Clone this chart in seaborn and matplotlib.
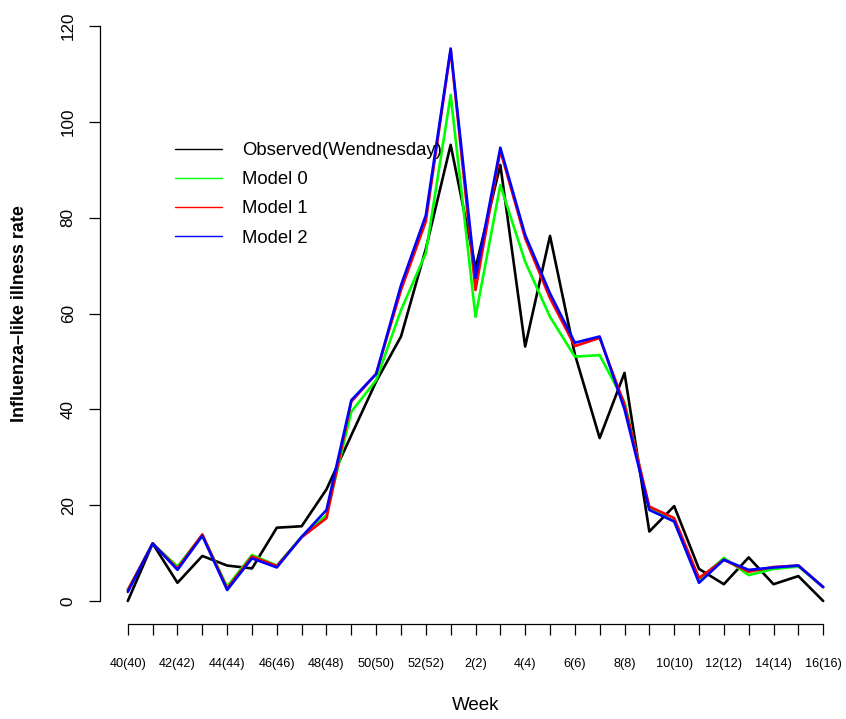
import numpy as np
import pandas as pd
import seaborn as sns
import matplotlib
matplotlib.use("Agg")
import matplotlib.pyplot as plt
from matplotlib.lines import Line2D

# Surveillance weeks (season 40 -> 16)
weeks = [40, 41, 42, 43, 44, 45, 46, 47, 48, 49, 50, 51, 52,
         1, 2, 3, 4, 5, 6, 7, 8, 9, 10, 11, 12, 13, 14, 15, 16]
week_labels = [f"{w}({w})" for w in weeks]

observed = [0.0, 12.0, 3.8, 9.4, 7.4, 6.8, 15.3, 15.6, 23.3, 34.6, 45.8, 55.2, 73.5,
            95.2, 69.5, 91.0, 53.1, 76.2, 51.5, 34.0, 47.6, 14.5, 19.8, 6.7, 3.5,
            9.1, 3.5, 5.2, 0.0]
model0 = [2.3, 12.0, 7.2, 13.8, 3.0, 9.6, 7.4, 13.4, 17.9, 39.5, 46.1, 60.7, 72.6,
          105.6, 59.3, 86.8, 70.8, 59.3, 51.0, 51.3, 41.5, 19.3, 16.6, 4.4, 9.0,
          5.4, 6.7, 7.2, 2.9]
model1 = [2.3, 12.0, 6.8, 13.9, 2.6, 9.3, 7.3, 13.3, 17.3, 41.6, 47.4, 64.9, 79.2,
          115.0, 64.9, 94.0, 75.7, 63.2, 53.2, 54.9, 41.0, 19.7, 17.3, 4.8, 8.6,
          6.1, 7.1, 7.4, 2.9]
model2 = [1.9, 12.0, 6.5, 13.6, 2.3, 8.9, 7.0, 13.4, 19.0, 41.9, 47.4, 65.9, 80.5,
          115.3, 67.4, 94.6, 76.4, 64.2, 53.9, 55.2, 40.0, 19.0, 16.6, 3.8, 8.6,
          6.5, 7.0, 7.4, 2.9]

series_names = ["Observed(Wendnesday)", "Model 0", "Model 1", "Model 2"]
series_values = [observed, model0, model1, model2]
series_colors = ["#000000", "#00FF00", "#FF0000", "#0000FF"]

pos = np.arange(len(weeks))
df = pd.concat(
    [pd.DataFrame({"pos": pos, "rate": vals, "series": name})
     for name, vals in zip(series_names, series_values)],
    ignore_index=True,
)

sns.set_style("white")
plt.rcParams["font.family"] = ["Liberation Sans", "DejaVu Sans"]
plt.rcParams.update({"text.color": "black", "axes.labelcolor": "black",
                     "xtick.color": "black", "ytick.color": "black"})

fig = plt.figure(figsize=(8.46, 7.19), dpi=100)
ax = fig.add_axes([100 / 846, 1 - 624 / 719, 751 / 846, 621 / 719])

sns.lineplot(data=df, x="pos", y="rate", hue="series", hue_order=series_names,
             palette=series_colors, linewidth=1.9, legend=False, ax=ax)

ax.set_xlim(-1.12, 29.12)
ax.set_ylim(-4.8, 124.8)

# R-style detached axes: only the data range is drawn
for side in ("top", "right"):
    ax.spines[side].set_visible(False)
ax.spines["left"].set_bounds(0, 120)
ax.spines["bottom"].set_bounds(0, 28)
for side in ("left", "bottom"):
    ax.spines[side].set_linewidth(0.9)
    ax.spines[side].set_color("black")

ax.set_xticks(pos)
ax.set_xticklabels([lab if i % 2 == 0 else "" for i, lab in enumerate(week_labels)],
                   fontsize=9.2)
ax.set_yticks([0, 20, 40, 60, 80, 100, 120])
ax.set_yticklabels(["0", "20", "40", "60", "80", "100", "120"], fontsize=12.3,
                   rotation=90, va="center")
ax.tick_params(axis="both", direction="out", length=8, width=0.9, color="black",
               labelcolor="black", left=True, bottom=True)
ax.tick_params(axis="x", pad=16.5)
ax.tick_params(axis="y", pad=9.5)

ax.set_xlabel("Week", fontsize=13.5, va="center")
ax.xaxis.set_label_coords(0.5, -(705 - 624) / 621)
ax.set_ylabel("Influenza–like illness rate", fontsize=13, fontweight="bold",
              va="center")
ax.yaxis.set_label_coords((20 - 100) / 751, 0.5)

handles = [Line2D([0], [0], color=c, lw=1.0) for c in series_colors]
ax.legend(handles, series_names, loc="upper left",
          bbox_to_anchor=(175 / 846, 1 - 142 / 719), bbox_transform=fig.transFigure,
          frameon=False, fontsize=13.3, handlelength=2.55, handletextpad=1.1,
          labelspacing=0.66, borderpad=0, borderaxespad=0)

fig.savefig("out.png", dpi=100)
